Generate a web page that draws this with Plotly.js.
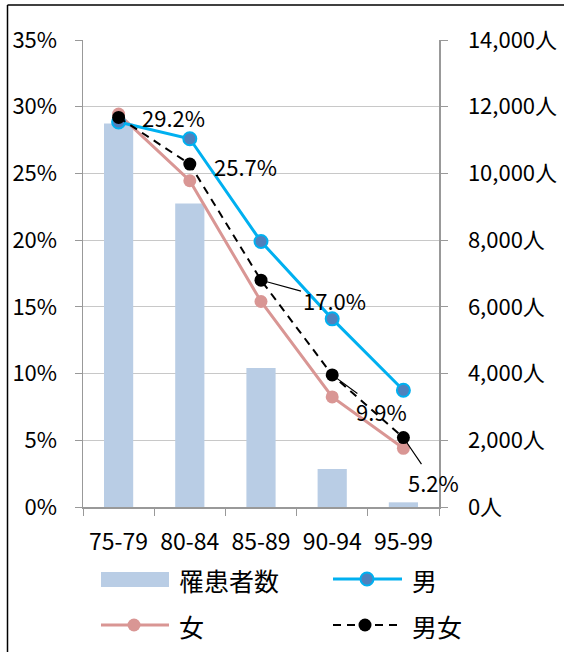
<!DOCTYPE html>
<html>
<head>
<meta charset="utf-8">
<script src="https://cdn.plot.ly/plotly-3.0.1.min.js"></script>
<style>
html,body{margin:0;padding:0;background:#fff;}
#chart{width:564px;height:652px;}
</style>
</head>
<body>
<div id="chart"></div>
<script>
// ---- data ----
const ageGroups = ["75-79", "80-84", "85-89", "90-94", "95-99"];
const patients = [11500, 9100, 4170, 1140, 140];          // 罹患者数 (人)
const male = [28.85, 27.6, 19.9, 14.1, 8.75];              // 男 (%)
const female = [29.45, 24.45, 15.4, 8.25, 4.4];            // 女 (%)
const total = [29.2, 25.7, 17.0, 9.9, 5.2];                // 男女 (%)
const totalLabels = ["29.2%", "25.7%", "17.0%", "9.9%", "5.2%"];
const legendNames = ["罹患者数", "男", "女", "男女"];

// ---- styling ----
const FONT = '"Noto Sans CJK JP", "Noto Sans", sans-serif';
const C_BAR = '#b9cde5', C_M = '#00b0f0', C_MF = '#4f81bd', C_F = '#d99694';

// plot-area geometry (pixels)
const L = 83, R = 439, T = 40, B = 507;
const W = 564, H = 652;
const PX = p => (p - L) / (R - L);
const PY = p => (B - p) / (B - T);

const traces = [
  {type: 'bar', x: ageGroups, y: patients, name: legendNames[0], yaxis: 'y',
   marker: {color: C_BAR}, width: 0.41, hoverinfo: 'skip'},
  {type: 'scatter', mode: 'lines+markers', x: ageGroups, y: female, name: legendNames[2], yaxis: 'y2',
   line: {color: C_F, width: 3}, marker: {color: C_F, size: 13}},
  {type: 'scatter', mode: 'lines+markers', x: ageGroups, y: male, name: legendNames[1], yaxis: 'y2',
   line: {color: C_M, width: 3}, marker: {color: C_MF, size: 13, line: {color: C_M, width: 2}}},
  {type: 'scatter', mode: 'lines+markers', x: ageGroups, y: total, name: legendNames[3], yaxis: 'y2',
   line: {color: '#000', width: 2, dash: '8px,6px'}, marker: {color: '#000', size: 13}}
];

// data labels for 男女
const labelOffsets = [
  {show: false, xshift: 21, yshift: 0},
  {show: false, xshift: 22, yshift: -2},
  {show: true, ax: 73, ay: 20},
  {show: true, ax: 49, ay: 36},
  {show: true, ax: 30, ay: 44}
];
const annotations = [];
ageGroups.forEach((g, i) => {
  const o = labelOffsets[i];
  const a = {x: g, y: total[i], xref: 'x', yref: 'y2', text: totalLabels[i],
    font: {family: FONT, size: 22, color: '#000'}};
  if (o.show) {
    Object.assign(a, {showarrow: true, arrowhead: 0, arrowwidth: 1.2, arrowcolor: '#000',
      ax: o.ax, ay: o.ay, standoff: 5});
  } else {
    Object.assign(a, {showarrow: false, xanchor: 'left', xshift: o.xshift, yshift: o.yshift});
  }
  annotations.push(a);
});

// manual legend
const shapes = [
  // outer frame (left and top)
  {type: 'line', xref: 'paper', yref: 'paper', x0: PX(7.5), x1: PX(7.5), y0: PY(5), y1: PY(660), line: {color: '#000', width: 1.5}},
  {type: 'line', xref: 'paper', yref: 'paper', x0: PX(7.5), x1: PX(570), y0: PY(5), y1: PY(5), line: {color: '#000', width: 1.5}},
  // legend swatches
  {type: 'rect', xref: 'paper', yref: 'paper', x0: PX(101), x1: PX(169), y0: PY(572), y1: PY(587), fillcolor: C_BAR, line: {width: 0}},
  {type: 'line', xref: 'paper', yref: 'paper', x0: PX(333), x1: PX(402), y0: PY(579), y1: PY(579), line: {color: C_M, width: 3}},
  {type: 'line', xref: 'paper', yref: 'paper', x0: PX(101), x1: PX(169), y0: PY(625), y1: PY(625), line: {color: C_F, width: 3}},
  {type: 'line', xref: 'paper', yref: 'paper', x0: PX(333), x1: PX(397), y0: PY(625), y1: PY(625), line: {color: '#000', width: 2, dash: '8px,6px'}}
];
function dot(cx, cy, fill, stroke) {
  return {type: 'circle', xref: 'paper', yref: 'paper', xsizemode: 'pixel', ysizemode: 'pixel',
    xanchor: PX(cx), yanchor: PY(cy), x0: -6.5, x1: 6.5, y0: -6.5, y1: 6.5,
    fillcolor: fill, line: {color: stroke, width: stroke === fill ? 0 : 2}};
}
shapes.push(dot(367, 579, C_MF, C_M), dot(134, 625, C_F, C_F), dot(365, 625, '#000', '#000'));
const legendText = [[177, 580, legendNames[0]], [410, 580, legendNames[1]], [177, 626, legendNames[2]], [410, 626, legendNames[3]]];
legendText.forEach(t => annotations.push({xref: 'paper', yref: 'paper', x: PX(t[0]), y: PY(t[1]),
  xanchor: 'left', yanchor: 'middle', showarrow: false, text: t[2], font: {family: FONT, size: 25, color: '#000'}}));

const layout = {
  width: W, height: H,
  margin: {l: L, r: W - R, t: T, b: H - B, pad: 0},
  paper_bgcolor: '#fff', plot_bgcolor: '#fff',
  showlegend: false,
  font: {family: FONT, size: 22, color: '#000'},
  bargap: 0.59,
  xaxis: {type: 'category', range: [-0.5, 4.5], tickson: 'boundaries', ticks: 'outside', ticklen: 7, tickcolor: '#999',
    showline: true, linecolor: '#999', linewidth: 1.5, showgrid: false,
    tickfont: {family: FONT, size: 23}, ticklabelstandoff: 14},
  yaxis: {side: 'right', range: [0, 14000], dtick: 2000, tickformat: ',d', ticksuffix: '人',
    showline: true, linecolor: '#999', linewidth: 1.5, ticks: 'outside', ticklen: 7, tickcolor: '#999',
    showgrid: true, gridcolor: '#c8c8c8', gridwidth: 1.2, zeroline: false,
    tickfont: {family: FONT, size: 22}, ticklabelstandoff: 16},
  yaxis2: {overlaying: 'y', side: 'left', range: [0, 35], dtick: 5, ticksuffix: '%',
    showline: true, linecolor: '#999', linewidth: 1.5, ticks: 'outside', ticklen: 7, tickcolor: '#999',
    showgrid: false, zeroline: false,
    tickfont: {family: FONT, size: 22}, ticklabelstandoff: 13},
  annotations: annotations,
  shapes: shapes
};

Plotly.newPlot('chart', traces, layout, {displayModeBar: false, staticPlot: true});
</script>
</body>
</html>
